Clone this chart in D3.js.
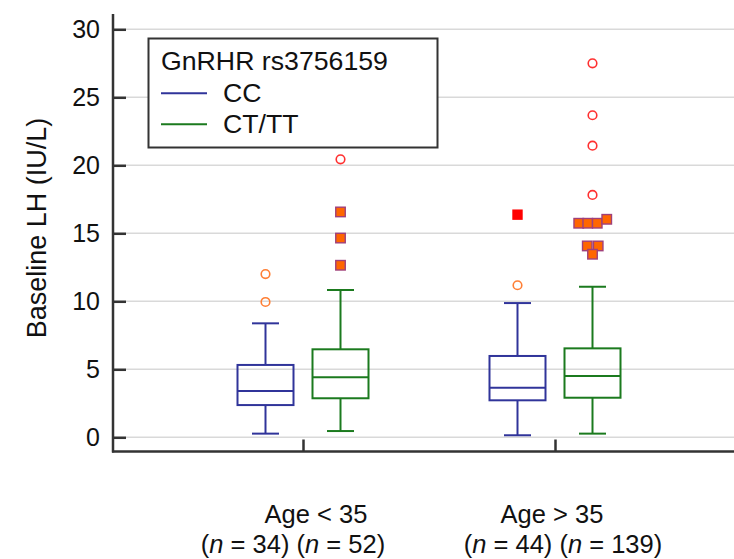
<!DOCTYPE html>
<html>
<head>
<meta charset="utf-8">
<script src="https://cdn.jsdelivr.net/npm/d3@7"></script>
<style>
  body { margin: 0; background: #fff; }
  text { font-family: 'Liberation Sans', Arial, sans-serif; fill: #111; }
</style>
</head>
<body>
<div id="chart"></div>
<script>
// data
const groups = ['Age < 35', 'Age > 35'];
const groupNs = [[34, 52], [44, 139]];
const genotypes = ['CC', 'CT/TT'];
const yTicks = [0, 5, 10, 15, 20, 25, 30];

// box statistics, [group][genotype]
const whiskerLow = [[0.27, 0.46], [0.15, 0.27]];
const q1 = [[2.37, 2.87], [2.72, 2.91]];
const median = [[3.40, 4.41], [3.65, 4.51]];
const q3 = [[5.32, 6.47], [5.98, 6.54]];
const whiskerHigh = [[8.38, 10.83], [9.87, 11.07]];

// outside values (> 1.5 IQR) and far out values (> 3 IQR)
const outside = [
  [[12.0, 9.95], [16.57, 14.65, 12.65]],
  [[11.18], [15.74, 15.74, 15.74, 16.03, 14.07, 14.07, 13.46]],
];
// side-by-side column of each outside value (in marker widths)
const outsideCol = [
  [[0, 0], [0, 0, 0]],
  [[0], [-1.45, -0.5, 0.5, 1.5, -0.55, 0.6, 0]],
];
const farOut = [
  [[], [20.44]],
  [[16.37], [27.5, 23.68, 21.44, 17.82]],
];

const width = 734;
const height = 559;
const colors = { CC: '#30349a', 'CT/TT': '#1b7a1e' };

const svg = d3
  .select('#chart')
  .append('svg')
  .attr('width', width)
  .attr('height', height);

const axisX = 113; // left axis line
const axisY = 451.5; // bottom axis line

const y = d3.scaleLinear().domain([0, 30]).range([437.3, 29.3]);
const x = d3.scalePoint().domain(groups).range([177, 681]).padding(0.5);
const xSub = d3.scaleBand().domain(genotypes).range([-75, 75]);
const boxW = 56;
const capW = 27;
const mark = 9.5;

// gridlines
svg
  .append('g')
  .selectAll('line')
  .data(yTicks)
  .join('line')
  .attr('x1', axisX)
  .attr('x2', width)
  .attr('y1', d => y(d))
  .attr('y2', d => y(d))
  .attr('stroke', '#d9d9d9')
  .attr('stroke-width', 1.5);

// y axis
const yAxis = svg
  .append('g')
  .attr('transform', `translate(${axisX},0)`)
  .call(d3.axisRight(y).tickValues(yTicks).tickSize(13).tickFormat(d3.format('d')));
yAxis.select('.domain').remove();
yAxis.selectAll('.tick line').attr('stroke', '#333').attr('stroke-width', 2.5);
yAxis
  .selectAll('.tick text')
  .attr('x', -13)
  .attr('text-anchor', 'end')
  .attr('font-size', 25)
  .attr('fill', '#111');

// x axis
const xAxis = svg
  .append('g')
  .attr('transform', `translate(0,${axisY})`)
  .call(d3.axisTop(x).tickSize(12).tickFormat(''));
xAxis.select('.domain').remove();
xAxis.selectAll('.tick line').attr('stroke', '#333').attr('stroke-width', 2.5);

svg
  .append('line')
  .attr('x1', axisX)
  .attr('x2', axisX)
  .attr('y1', 14)
  .attr('y2', axisY + 1)
  .attr('stroke', '#333')
  .attr('stroke-width', 2.5);
svg
  .append('line')
  .attr('x1', axisX - 1)
  .attr('x2', width)
  .attr('y1', axisY)
  .attr('y2', axisY)
  .attr('stroke', '#333')
  .attr('stroke-width', 2.5);

// y title
svg
  .append('text')
  .attr('transform', `translate(46,228) rotate(-90)`)
  .attr('text-anchor', 'middle')
  .attr('font-size', 27)
  .text('Baseline LH (IU/L)');

// category labels
const line1Shift = [13, -3];
const line2Shift = [-10, 8];
groups.forEach((g, gi) => {
  svg
    .append('text')
    .attr('x', x(g) + line1Shift[gi])
    .attr('y', 523)
    .attr('text-anchor', 'middle')
    .attr('font-size', 25.5)
    .text(g);
  const t = svg
    .append('text')
    .attr('x', x(g) + line2Shift[gi])
    .attr('y', 553)
    .attr('text-anchor', 'middle')
    .attr('font-size', 25.5);
  groupNs[gi].forEach((n, k) => {
    t.append('tspan').text(k === 0 ? '(' : ' (');
    t.append('tspan').attr('font-style', 'italic').text('n');
    t.append('tspan').text(` = ${n})`);
  });
});

// boxes
groups.forEach((g, gi) => {
  genotypes.forEach((gt, ti) => {
    const cx = x(g) + xSub(gt) + xSub.bandwidth() / 2;
    const c = colors[gt];
    const bg = svg.append('g').attr('stroke', c).attr('stroke-width', 2).attr('fill', 'none');

    bg.append('line')
      .attr('x1', cx).attr('x2', cx)
      .attr('y1', y(whiskerHigh[gi][ti])).attr('y2', y(q3[gi][ti]));
    bg.append('line')
      .attr('x1', cx).attr('x2', cx)
      .attr('y1', y(q1[gi][ti])).attr('y2', y(whiskerLow[gi][ti]));
    [whiskerHigh[gi][ti], whiskerLow[gi][ti]].forEach(v => {
      bg.append('line')
        .attr('x1', cx - capW / 2).attr('x2', cx + capW / 2)
        .attr('y1', y(v)).attr('y2', y(v));
    });
    bg.append('rect')
      .attr('x', cx - boxW / 2)
      .attr('y', y(q3[gi][ti]))
      .attr('width', boxW)
      .attr('height', y(q1[gi][ti]) - y(q3[gi][ti]));
    bg.append('line')
      .attr('x1', cx - boxW / 2).attr('x2', cx + boxW / 2)
      .attr('y1', y(median[gi][ti])).attr('y2', y(median[gi][ti]));

    // outliers
    const out = outside[gi][ti].map((v, k) => ({ v, col: outsideCol[gi][ti][k] }));
    const far = farOut[gi][ti];
    if (gt === 'CC') {
      svg.append('g').selectAll('circle').data(out).join('circle')
        .attr('cx', d => cx + d.col * mark)
        .attr('cy', d => y(d.v))
        .attr('r', 4.3)
        .attr('fill', 'none')
        .attr('stroke', '#ff7f35')
        .attr('stroke-width', 1.6);
      svg.append('g').selectAll('rect').data(far).join('rect')
        .attr('x', cx - 5.2)
        .attr('y', d => y(d) - 5.2)
        .attr('width', 10.4)
        .attr('height', 10.4)
        .attr('fill', '#ff0000');
    } else {
      svg.append('g').selectAll('rect').data(out).join('rect')
        .attr('x', d => cx + d.col * mark - mark / 2)
        .attr('y', d => y(d.v) - mark / 2)
        .attr('width', mark)
        .attr('height', mark)
        .attr('fill', '#ff6600')
        .attr('stroke', '#a0407a')
        .attr('stroke-width', 1.4);
      svg.append('g').selectAll('circle').data(far).join('circle')
        .attr('cx', cx)
        .attr('cy', d => y(d))
        .attr('r', 4.3)
        .attr('fill', 'none')
        .attr('stroke', '#ff3030')
        .attr('stroke-width', 1.6);
    }
  });
});

// legend
const legend = svg.append('g');
legend
  .append('rect')
  .attr('x', 148.5)
  .attr('y', 38.5)
  .attr('width', 289)
  .attr('height', 109)
  .attr('fill', '#fff')
  .attr('stroke', '#333')
  .attr('stroke-width', 2);
legend
  .append('text')
  .attr('x', 161)
  .attr('y', 69.5)
  .attr('font-size', 26.7)
  .text('GnRHR rs3756159');
genotypes.forEach((gt, i) => {
  const ly = 93.3 + i * 31;
  legend
    .append('line')
    .attr('x1', 161)
    .attr('x2', 207)
    .attr('y1', ly)
    .attr('y2', ly)
    .attr('stroke', colors[gt])
    .attr('stroke-width', 2);
  legend
    .append('text')
    .attr('x', 223)
    .attr('y', ly + 8.7)
    .attr('font-size', 26.7)
    .text(gt);
});
</script>
</body>
</html>
